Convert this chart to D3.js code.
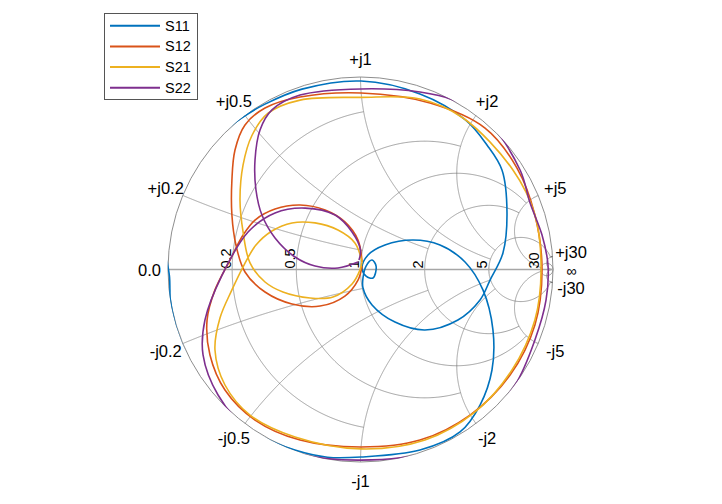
<!DOCTYPE html>
<html><head><meta charset="utf-8">
<script src="https://cdn.jsdelivr.net/npm/d3@7"></script>
<style>body{margin:0;background:#fff}text{font-family:"Liberation Sans",Arial,sans-serif;fill:#000}</style>
</head><body><svg id="c" width="722" height="504"></svg>
<script>
const seriesNames = ["S11","S12","S21","S22"];
const seriesColors = ["#0072BD","#D95319","#EDB120","#7E2F8E"];
const gridValues = [[30, Infinity],[5,30],[2,5],[1,5],[0.5,2],[0.2,1]];
const resistanceTicks = [0.2,0.5,1,2,5,30];
const resistanceLabels = ["0.2","0.5","1","2","5","30"];
const reactanceTicks = [0.2,0.5,1,2,5,30];
const s11Re = [-0.958,-0.831,-0.714,-0.616,-0.496,-0.304,0.003,0.309,0.545,0.657,0.735,0.761,0.740,0.673,0.621,0.506,0.335,0.179,0.060,0.013,0.013,0.029,0.060,0.081,0.065,0.029,0.008,0.039,0.127,0.273,0.413,0.543,0.636,0.688,0.683,0.621,0.517,0.309,0.003,-0.172,-0.341,-0.504,-0.677,-0.829,-0.933,-0.988,-0.990,-0.992,-1.0075,-1.0045];
const s11Im = [0.349,0.582,0.714,0.788,0.859,0.937,0.979,0.912,0.777,0.647,0.517,0.294,0.086,-0.055,-0.158,-0.262,-0.314,-0.273,-0.184,-0.096,-0.044,0.018,0.049,0.018,-0.044,-0.034,0.008,0.075,0.127,0.153,0.127,0.039,-0.106,-0.314,-0.522,-0.704,-0.844,-0.938,-0.974,-0.975,-0.938,-0.873,-0.752,-0.580,-0.377,-0.158,-0.106,-0.039,0.0705,0.177];
const s12Re = [0.008,-0.013,-0.081,-0.184,-0.314,-0.444,-0.548,-0.610,-0.678,-0.756,-0.797,-0.782,-0.704,-0.548,-0.314,0.003,0.309,0.569,0.777,0.906,0.943,0.906,0.813,0.647,0.361,0.003,-0.314,-0.496,-0.600,-0.652,-0.668,-0.668,-0.647,-0.600,-0.496,-0.356,-0.210,-0.081,-0.013,0.008];
const s12Im = [0.039,0.153,0.247,0.309,0.335,0.314,0.257,0.179,0.049,-0.106,-0.262,-0.444,-0.626,-0.782,-0.886,-0.922,-0.886,-0.756,-0.548,-0.288,-0.003,0.283,0.527,0.735,0.865,0.917,0.896,0.839,0.751,0.621,0.465,0.283,0.127,-0.013,-0.117,-0.179,-0.190,-0.138,-0.055,0.018];
const s21Re = [0.008,-0.029,-0.117,-0.236,-0.356,-0.460,-0.543,-0.605,-0.668,-0.730,-0.756,-0.704,-0.574,-0.340,0.003,0.335,0.595,0.787,0.906,0.938,0.906,0.792,0.533,0.309,0.003,-0.314,-0.480,-0.564,-0.610,-0.626,-0.610,-0.574,-0.496,-0.403,-0.262,-0.143,-0.044,-0.003,0.008];
const s21Im = [0.039,0.138,0.205,0.242,0.242,0.200,0.127,0.023,-0.106,-0.252,-0.418,-0.600,-0.756,-0.870,-0.932,-0.886,-0.740,-0.522,-0.262,-0.003,0.283,0.517,0.787,0.886,0.894,0.880,0.812,0.696,0.543,0.361,0.195,0.034,-0.065,-0.117,-0.148,-0.143,-0.075,-0.003,0.039];
const s22Re = [-0.013,-0.117,-0.236,-0.340,-0.444,-0.512,-0.543,-0.548,-0.522,-0.460,-0.314,0.003,0.309,0.481,0.657,0.829,0.881,0.943,0.974,0.964,0.906,0.803,0.621,0.361,0.003,-0.314,-0.574,-0.740,-0.818,-0.808,-0.719,-0.584,-0.444,-0.288,-0.132,-0.044,0.000,-0.008];
const s22Im = [0.039,0.008,0.018,0.065,0.164,0.283,0.413,0.569,0.725,0.829,0.906,0.938,0.922,0.881,0.777,0.517,0.345,0.179,0.023,-0.158,-0.366,-0.600,-0.808,-0.948,-0.990,-0.958,-0.844,-0.652,-0.444,-0.262,-0.029,0.195,0.294,0.319,0.283,0.195,0.101,0.049];

const cx = 360.5, cy = 269.5, R = 192.5;
const svg = d3.select("#c");
const xs = d3.scaleLinear().domain([-1,1]).range([cx-R, cx+R]);
const ys = d3.scaleLinear().domain([-1,1]).range([cy+R, cy-R]);

function gam(r, x){
  const d = (r+1)*(r+1) + x*x;
  return [(r*r + x*x - 1)/d, 2*x/d];
}
const gline = d3.line().x(d=>xs(d[0])).y(d=>ys(d[1]));
const N = 700;
const gridG = svg.append("g");
const gridColor = "#7a7a7a";
gridG.append("circle").attr("cx",xs(0)).attr("cy",ys(0)).attr("r",xs(1)-xs(0))
  .attr("fill","none").attr("stroke",gridColor).attr("stroke-width",0.85);
gridValues.forEach(([v, lim])=>{
  const phMax = isFinite(lim) ? Math.atan(lim) : Math.PI/2 - 1e-6;
  const pts = d3.range(N+1).map(i=>{ const ph = -phMax + 2*phMax*i/N; return gam(v, Math.tan(ph)); });
  gridG.append("path").attr("d", gline(pts)).attr("fill","none").attr("stroke",gridColor).attr("stroke-width",0.7);
  [1,-1].forEach(s=>{
    const p2 = d3.range(N+1).map(i=>{ const ph = phMax*i/N; return gam(Math.tan(ph), s*v); });
    gridG.append("path").attr("d", gline(p2)).attr("fill","none").attr("stroke",gridColor).attr("stroke-width",0.7);
  });
});
gridG.append("line").attr("x1",xs(-1)).attr("x2",xs(1)).attr("y1",ys(0)).attr("y2",ys(0))
  .attr("stroke","#a6a6a6").attr("stroke-width",1.6);

resistanceTicks.forEach((r,i)=>{
  const gx = (r-1)/(r+1);
  svg.append("text").attr("transform",`translate(${xs(gx)-1.5},${ys(0)-1}) rotate(-90)`)
    .attr("font-size",14.5).attr("text-anchor","start").text(resistanceLabels[i]);
});
const labR = R + 18.5;
function outerLabel(angle, txt, dy, fs){
  svg.append("text").attr("x", cx + labR*Math.cos(angle)).attr("y", cy - labR*Math.sin(angle) + (dy||0))
    .attr("font-size",fs||16.5).attr("text-anchor","middle").attr("dominant-baseline","central").text(txt);
}
reactanceTicks.forEach(x=>{
  const g = gam(0, x);
  const a = Math.atan2(g[1], g[0]);
  outerLabel(a, "+j"+x, x===30 ? -3.5 : 0);
  outerLabel(-a, "-j"+x, x===30 ? 4 : 0);
});
outerLabel(Math.PI, "0.0");
outerLabel(0, "\u221E", 1, 14.5);

// data clipped to the unit circle
svg.append("defs").append("clipPath").attr("id","unit")
  .append("circle").attr("cx",xs(0)).attr("cy",ys(0)).attr("r",xs(1)-xs(0)+0.3);
const dataG = svg.append("g").attr("clip-path","url(#unit)");
const sre = [s11Re, s12Re, s21Re, s22Re], sim = [s11Im, s12Im, s21Im, s22Im];
const dline = d3.line().x(d=>xs(d[0])).y(d=>ys(d[1])).curve(d3.curveCatmullRom.alpha(0.5));
seriesNames.forEach((n,k)=>{
  const pts = sre[k].map((v,i)=>[v, sim[k][i]]);
  dataG.append("path").attr("d", dline(pts)).attr("fill","none").attr("stroke",seriesColors[k]).attr("stroke-width",1.6);
});

const lg = svg.append("g");
lg.append("rect").attr("x",104.5).attr("y",13.5).attr("width",93).attr("height",86)
  .attr("fill","#fff").attr("stroke","#555").attr("stroke-width",1);
seriesNames.forEach((n,k)=>{
  const yy = 25.7 + k*20.7;
  lg.append("line").attr("x1",110).attr("x2",160).attr("y1",yy).attr("y2",yy).attr("stroke",seriesColors[k]).attr("stroke-width",2);
  lg.append("text").attr("x",165).attr("y",yy).attr("dominant-baseline","central").attr("font-size",14.5).text(n);
});
</script></body></html>
